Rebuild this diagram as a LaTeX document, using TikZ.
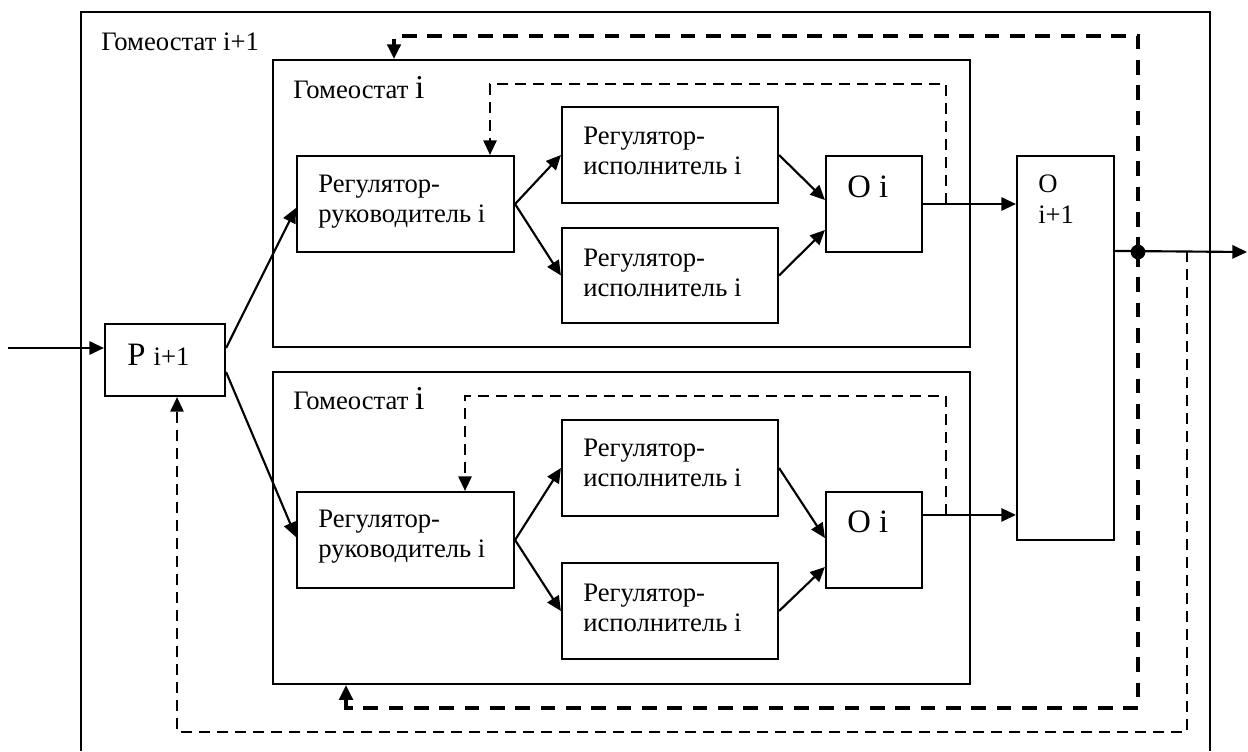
\documentclass[tikz,border=0pt]{standalone}
\usepackage{fontspec}
\setmainfont{Liberation Serif}
\usetikzlibrary{arrows.meta,calc}
\begin{document}
\begin{tikzpicture}[x=0.75pt,y=-0.75pt,
  box/.style={draw,line width=1.6pt,inner sep=0,fill=none},
  conn/.style={line width=1.6pt,-{Triangle[length=11pt,width=10pt]}},
  thindash/.style={line width=1.5pt,dash pattern=on 8pt off 5.5pt,-{Triangle[length=11pt,width=10pt]}},
  thickdash/.style={line width=3.4pt,dash pattern=on 11pt off 8pt,-{Triangle[length=11pt,width=10pt]}},
  txt/.style={anchor=base west,inner sep=0,font=\fontsize{20pt}{24pt}\selectfont},
  bigtxt/.style={anchor=base west,inner sep=0,font=\fontsize{24.5pt}{28pt}\selectfont},
  dotnode/.style={circle,fill=black,inner sep=0,minimum size=11pt}
]
\useasboundingbox (0,0) rectangle (1248,751);
\fill[white] (0,0) rectangle (1248,751);

% outer homeostat i+1 (open at the bottom)
\draw[line width=1.6pt] (81,751) -- (81,12) -- (1210,12) -- (1210,751);
\node[txt] (lblouter) at (101,50) {Гомеостат i+1};

% inner homeostat frames
\node[box,minimum width=522.75pt,minimum height=215.25pt] (G1) at (621.5,203.5) {};
\node[box,minimum width=522.75pt,minimum height=234pt] (G2) at (621.5,528) {};
\node[txt] (lblg1) at (293,98) {Гомеостат {\fontsize{25pt}{28pt}\selectfont i}};
\node[txt] (lblg2) at (293,409) {Гомеостат {\fontsize{25pt}{28pt}\selectfont i}};

% P i+1
\node[box,minimum width=90pt,minimum height=54pt] (P) at (165,360) {};
\node[bigtxt] (Ptxt) at (127,365) {P {\fontsize{20pt}{24pt}\selectfont i+1}};

% regulator-leaders
\node[box,minimum width=162.75pt,minimum height=72pt] (RR1) at (405.5,204) {};
\node[box,minimum width=162.75pt,minimum height=72pt] (RR2) at (405.5,540) {};
\node[txt] (rr1a) at (318,192) {Регулятор-};
\node[txt] (rr1b) at (318,222) {руководитель i};
\node[txt] (rr2a) at (318,527) {Регулятор-};
\node[txt] (rr2b) at (318,557) {руководитель i};

% regulator-executors
\node[box,minimum width=162pt,minimum height=72pt] (E1) at (670,155) {};
\node[box,minimum width=162pt,minimum height=71.25pt] (E2) at (670,275.5) {};
\node[box,minimum width=162pt,minimum height=72pt] (E3) at (670,468) {};
\node[box,minimum width=162pt,minimum height=72pt] (E4) at (670,611) {};
\node[txt] (e1a) at (583,144) {Регулятор-};
\node[txt] (e1b) at (583,174) {исполнитель i};
\node[txt] (e2a) at (583,266) {Регулятор-};
\node[txt] (e2b) at (583,296) {исполнитель i};
\node[txt] (e3a) at (583,456) {Регулятор-};
\node[txt] (e3b) at (583,486) {исполнитель i};
\node[txt] (e4a) at (583,601) {Регулятор-};
\node[txt] (e4b) at (583,631) {исполнитель i};

% objects O i
\node[box,minimum width=72pt,minimum height=72pt] (O1) at (874,204) {};
\node[box,minimum width=72pt,minimum height=72pt] (O2) at (874,540) {};
\node[bigtxt] (o1t) at (847,197) {O i};
\node[bigtxt] (o2t) at (847,532) {O i};

% object O i+1
\node[box,minimum width=72.75pt,minimum height=288pt] (OB) at (1065.5,348) {};
\node[txt] (obt1) at (1038,192) {O};
\node[txt] (obt2) at (1038,223) {i+1};

% coordinates
\coordinate (in) at (8,348);
\coordinate (out) at (1247,252);
\coordinate (o2o) at ($(O2.north east)+(0,24)$);
\coordinate (obo) at ($(OB.north east)+(0,96)$);
\coordinate (i1) at (946,84);
\coordinate (i1b) at (490,84);
\coordinate (i2) at (946,396);
\coordinate (i2b) at (465,396);
\coordinate (tc) at (394,36);
\coordinate (bc) at (346,708);
\coordinate (ox) at (1187,732);
\coordinate (oc) at (177,732);

% solid connectors
\draw[conn] (in) -- (in -| P.west);
\draw[conn] ($(P.east)+(0,-12)$) -- ($(RR1.west)+(0,4)$);
\draw[conn] ($(P.east)+(0,12)$) -- ($(RR2.west)+(0,-3)$);
\draw[conn] (RR1.east) -- (E1.west);
\draw[conn] (RR1.east) -- (E2.west);
\draw[conn] (RR2.east) -- (E3.west);
\draw[conn] (RR2.east) -- (E4.west);
\draw[conn] (E1.east) -- ($(O1.west)+(0,-4)$);
\draw[conn] (E2.east) -- ($(O1.west)+(0,26)$);
\draw[conn] (E3.east) -- ($(O2.west)+(0,-2)$);
\draw[conn] (E4.east) -- ($(O2.west)+(0,27)$);
\draw[conn] (O1.east) -- (O1.east -| OB.west);
\draw[conn] (o2o) -- (o2o -| OB.west);
\draw[conn] (obo) -- (out);

% inner feedback loops
\draw[thindash] (i1 |- O1.east) -- (i1) -- (i1b) -- (i1b |- RR1.north);
\draw[thindash] (i2 |- o2o) -- (i2) -- (i2b) -- (i2b |- RR2.north);

% outer feedback loops
\node[dotnode] (dot) at (1138,252) {};
\draw[thickdash] (dot.center) |- (tc) -- (tc |- G1.north);
\draw[thickdash] (dot.center) |- (bc) -- (bc |- G2.south);
\draw[thindash] (ox |- obo) |- (oc) -- (oc |- P.south);
\end{tikzpicture}
\end{document}
